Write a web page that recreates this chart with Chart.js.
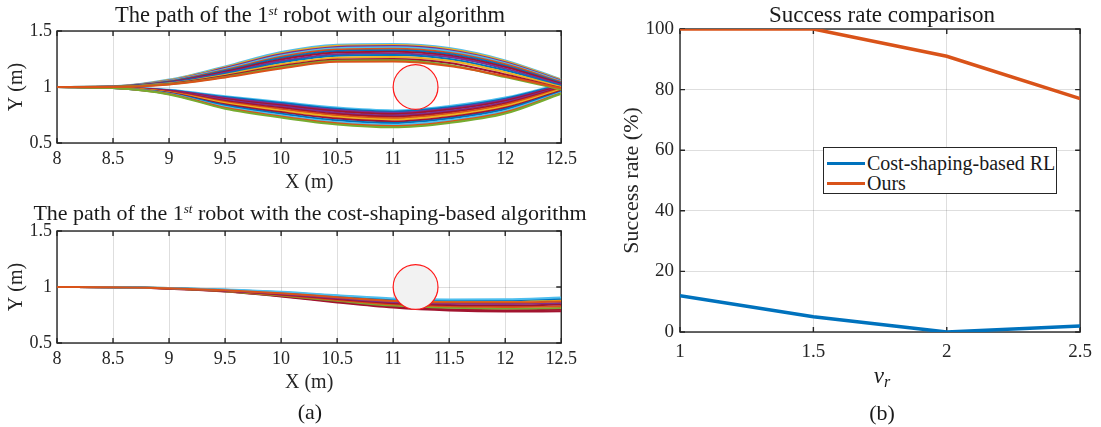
<!DOCTYPE html>
<html>
<head>
<meta charset="utf-8">
<script src="https://cdn.jsdelivr.net/npm/chart.js@4.4.1/dist/chart.umd.min.js"></script>
<style>
  body { margin: 0; background: #fff; }
  #page { position: relative; width: 1101px; height: 427px; overflow: hidden;
          font-family: "Liberation Serif", "Times New Roman", serif; color: #1a1a1a; }
  #page canvas { position: absolute; }
  .txt { position: absolute; width: 640px; text-align: center; white-space: nowrap; height: 28px; line-height: 28px; }
  .txt sup { font-size: 0.6em; font-style: italic; vertical-align: 0.55em; line-height: 0; }
  .txt sub { font-size: 0.7em; font-style: italic; vertical-align: -0.25em; line-height: 0; }
  #legend { position: absolute; left: 823px; top: 147px; width: 234px; height: 47px;
            border: 1.4px solid #262626; background: #fff; box-sizing: border-box; }
  #legend .row { position: absolute; left: 0; height: 22px; line-height: 22px; font-size: 20px; color: #1a1a1a; }
  #legend .swatch { position: absolute; left: 3px; top: 9.5px; width: 38px; height: 3px; }
  #legend .lbl { position: absolute; left: 43px; top: 0; white-space: nowrap; }
</style>
</head>
<body>
<div id="page">
  <canvas id="c-ours" width="582" height="200" style="left:0;top:0"></canvas>
  <canvas id="c-shaped" width="582" height="200" style="left:0;top:200px"></canvas>
  <canvas id="c-rate" width="501" height="400" style="left:600px;top:0"></canvas>

  <div class="txt" style="left:-10px;top:1px;font-size:22.5px">The path of the 1<sup>st</sup> robot with our algorithm</div>
  <div class="txt" style="left:-10px;top:199px;font-size:22px">The path of the 1<sup>st</sup> robot with the cost-shaping-based algorithm</div>
  <div class="txt" style="left:-10px;top:398px;font-size:22px">(a)</div>

  <div class="txt" style="left:562px;top:1px;font-size:23px">Success rate comparison</div>
  <div class="txt" style="left:562px;top:362px;font-size:23px"><i>v</i><sub>r</sub></div>
  <div class="txt" style="left:562px;top:399px;font-size:22px">(b)</div>

  <div id="legend">
    <div class="row" style="top:4px"><span class="swatch" style="background:#0072BD"></span><span class="lbl">Cost-shaping-based RL</span></div>
    <div class="row" style="top:24px"><span class="swatch" style="background:#D95319"></span><span class="lbl">Ours</span></div>
  </div>
</div>

<script>
// x positions (m) where every path is sampled
const pathX = [8, 8.5, 9, 9.5, 10, 10.5, 11, 11.5, 12, 12.5];

// our algorithm: paths passing above the obstacle (top to bottom)
const oursUpper = [
  [1, 1.006, 1.066, 1.184, 1.312, 1.378, 1.385, 1.348, 1.238, 1.068],
  [1, 1.005, 1.062, 1.176, 1.302, 1.368, 1.376, 1.339, 1.230, 1.062],
  [1, 1.005, 1.058, 1.169, 1.292, 1.357, 1.365, 1.329, 1.222, 1.057],
  [1, 1.004, 1.055, 1.161, 1.281, 1.346, 1.354, 1.319, 1.213, 1.051],
  [1, 1.004, 1.051, 1.153, 1.270, 1.334, 1.342, 1.307, 1.203, 1.044],
  [1, 1.003, 1.047, 1.145, 1.258, 1.321, 1.329, 1.295, 1.191, 1.036],
  [1, 1.003, 1.043, 1.136, 1.245, 1.307, 1.315, 1.281, 1.178, 1.028],
  [1, 1.003, 1.039, 1.127, 1.232, 1.293, 1.300, 1.267, 1.164, 1.019],
  [1, 1.002, 1.035, 1.118, 1.218, 1.278, 1.285, 1.251, 1.149, 1.010],
  [1, 1.002, 1.031, 1.108, 1.203, 1.262, 1.268, 1.234, 1.132, 1.001],
  [1, 1.001, 1.027, 1.098, 1.188, 1.246, 1.251, 1.215, 1.112, 0.991],
  [1, 1.001, 1.024, 1.090, 1.176, 1.235, 1.238, 1.196, 1.088, 0.978],
  [1, 1.001, 1.022, 1.085, 1.165, 1.225, 1.227, 1.188, 1.096, 0.988]
];
const oursUpperColor = [5, 2, 3, 5, 1, 0, 6, 3, 0, 2, 6, 4, 1];

// our algorithm: paths passing below the obstacle (top to bottom)
const oursLower = [
  [1, 0.996, 0.975, 0.918, 0.867, 0.816, 0.791, 0.831, 0.906, 1.028],
  [1, 0.996, 0.972, 0.910, 0.857, 0.805, 0.780, 0.820, 0.896, 1.021],
  [1, 0.995, 0.969, 0.902, 0.846, 0.794, 0.769, 0.809, 0.886, 1.015],
  [1, 0.995, 0.966, 0.894, 0.836, 0.783, 0.758, 0.798, 0.876, 1.008],
  [1, 0.994, 0.963, 0.885, 0.825, 0.771, 0.746, 0.786, 0.865, 1.001],
  [1, 0.994, 0.960, 0.876, 0.814, 0.759, 0.734, 0.774, 0.854, 0.993],
  [1, 0.993, 0.956, 0.867, 0.802, 0.746, 0.721, 0.761, 0.842, 0.985],
  [1, 0.993, 0.952, 0.857, 0.789, 0.732, 0.707, 0.747, 0.829, 0.977],
  [1, 0.992, 0.948, 0.846, 0.776, 0.718, 0.693, 0.733, 0.815, 0.968],
  [1, 0.991, 0.944, 0.835, 0.762, 0.703, 0.678, 0.718, 0.801, 0.959],
  [1, 0.991, 0.940, 0.824, 0.748, 0.688, 0.663, 0.703, 0.786, 0.951],
  [1, 0.990, 0.937, 0.815, 0.737, 0.676, 0.651, 0.690, 0.774, 0.945],
  [1, 0.990, 0.934, 0.806, 0.727, 0.665, 0.640, 0.679, 0.763, 0.940]
];
const oursLowerColor = [5, 0, 3, 6, 3, 6, 1, 2, 6, 0, 5, 1, 4];

// cost-shaping-based algorithm paths (first one is drawn on top)
const shapedPaths = [
  [1, 0.998, 0.989, 0.971, 0.944, 0.909, 0.876, 0.864, 0.863, 0.870],
  [1, 0.998, 0.991, 0.977, 0.957, 0.927, 0.898, 0.889, 0.890, 0.906],
  [1, 0.998, 0.990, 0.975, 0.953, 0.922, 0.892, 0.882, 0.883, 0.896],
  [1, 0.998, 0.990, 0.973, 0.949, 0.916, 0.885, 0.874, 0.874, 0.884],
  [1, 0.998, 0.988, 0.969, 0.939, 0.901, 0.866, 0.852, 0.850, 0.857],
  [1, 0.997, 0.988, 0.967, 0.934, 0.893, 0.855, 0.840, 0.836, 0.843],
  [1, 0.997, 0.987, 0.965, 0.929, 0.885, 0.845, 0.828, 0.822, 0.829],
  [1, 0.997, 0.986, 0.963, 0.924, 0.877, 0.834, 0.815, 0.808, 0.813],
  [1, 0.997, 0.986, 0.961, 0.919, 0.869, 0.824, 0.801, 0.793, 0.797],
  [1, 0.997, 0.985, 0.959, 0.915, 0.862, 0.816, 0.790, 0.781, 0.783]
];
const shapedColor = [1, 5, 0, 2, 3, 6, 1, 4, 6, 6];

// circular obstacle (m)
const obstacle = { x: 11.2, y: 1, r: 0.2 };

// success rate (%) vs v_r
const vr = [1, 1.5, 2, 2.5];
const rateShaped = [12, 5, 0, 2];
const rateOurs = [100, 100, 91, 77];

const matlabColors = ['#0072BD', '#D95319', '#EDB120', '#7E2F8E', '#77AC30', '#4DBEEE', '#A2142F'];
const ink = '#262626';
const gridColor = 'rgba(0,0,0,0.13)';
const serif = '"Liberation Serif", "Times New Roman", serif';
Chart.defaults.font.family = serif;

// MATLAB style box with inward ticks on all four sides
const matlabFrame = {
  id: 'matlabFrame',
  beforeDatasetsDraw(chart) {
    const { ctx, chartArea: a, scales } = chart;
    ctx.save();
    ctx.strokeStyle = ink;
    ctx.lineWidth = 1.4;
    ctx.strokeRect(a.left, a.top, a.right - a.left, a.bottom - a.top);
    const len = 5;
    ctx.beginPath();
    scales.x.ticks.forEach((t, i) => {
      const px = scales.x.getPixelForTick(i);
      ctx.moveTo(px, a.bottom); ctx.lineTo(px, a.bottom - len);
      ctx.moveTo(px, a.top); ctx.lineTo(px, a.top + len);
    });
    scales.y.ticks.forEach((t, i) => {
      const py = scales.y.getPixelForTick(i);
      ctx.moveTo(a.left, py); ctx.lineTo(a.left + len, py);
      ctx.moveTo(a.right, py); ctx.lineTo(a.right - len, py);
    });
    ctx.stroke();
    ctx.restore();
  }
};

function pathDataset(ys, colorIdx) {
  return {
    type: 'line',
    data: pathX.map((x, i) => ({ x: x, y: ys[i] })),
    borderColor: matlabColors[colorIdx],
    borderWidth: 2,
    pointRadius: 0,
    fill: false,
    cubicInterpolationMode: 'monotone'
  };
}

// obstacle drawn as one point whose radius is the obstacle radius in x-scale pixels
function obstacleDataset() {
  return {
    type: 'line',
    data: [{ x: obstacle.x, y: obstacle.y }],
    showLine: false,
    pointBackgroundColor: '#f2f2f2',
    pointBorderColor: '#ff1a1a',
    pointBorderWidth: 1.2,
    pointRadius: (ctx) => {
      const s = ctx.chart.scales.x;
      const r = Math.abs(s.getPixelForValue(obstacle.x + obstacle.r) - s.getPixelForValue(obstacle.x));
      return isFinite(r) ? r : 0;
    },
    clip: false,
    order: -1
  };
}

function pathOptions() {
  return {
    responsive: false,
    animation: false,
    events: [],
    layout: { padding: { top: 31, right: 20, left: 0, bottom: 0 } },
    plugins: { legend: { display: false }, tooltip: { enabled: false } },
    scales: {
      x: {
        type: 'linear', min: 8, max: 12.5,
        ticks: { stepSize: 0.5, padding: 5, color: ink, font: { family: serif, size: 18 }, maxRotation: 0, autoSkip: false,
                 callback: (v) => String(v) },
        grid: { color: gridColor, drawTicks: false },
        border: { display: false },
        title: { display: true, text: 'X (m)', color: ink, font: { family: serif, size: 20 }, padding: { top: 0, bottom: 5 } },
        afterFit: (s) => { s.height = 57; }
      },
      y: {
        type: 'linear', min: 0.5, max: 1.5,
        ticks: { stepSize: 0.5, padding: 5, color: ink, font: { family: serif, size: 18 }, callback: (v) => String(v) },
        grid: { color: gridColor, drawTicks: false },
        border: { display: false },
        title: { display: true, text: 'Y (m)', color: ink, font: { family: serif, size: 20 }, padding: { top: 5, bottom: 0 } },
        afterFit: (s) => { s.width = 57; }
      }
    }
  };
}

const oursSets = [obstacleDataset()];
for (let i = oursUpper.length - 1; i >= 0; i--) oursSets.push(pathDataset(oursUpper[i], oursUpperColor[i]));
for (let i = oursLower.length - 1; i >= 0; i--) oursSets.push(pathDataset(oursLower[i], oursLowerColor[i]));

new Chart(document.getElementById('c-ours'), {
  type: 'line',
  data: { datasets: oursSets },
  options: pathOptions(),
  plugins: [matlabFrame]
});

const shapedSets = [obstacleDataset()];
shapedPaths.forEach((ys, i) => shapedSets.push(pathDataset(ys, shapedColor[i])));

new Chart(document.getElementById('c-shaped'), {
  type: 'line',
  data: { datasets: shapedSets },
  options: pathOptions(),
  plugins: [matlabFrame]
});

new Chart(document.getElementById('c-rate'), {
  type: 'line',
  data: {
    datasets: [
      { label: 'Cost-shaping-based RL', data: vr.map((x, i) => ({ x: x, y: rateShaped[i] })),
        borderColor: matlabColors[0], borderWidth: 3.5, pointRadius: 0, tension: 0 },
      { label: 'Ours', data: vr.map((x, i) => ({ x: x, y: rateOurs[i] })),
        borderColor: matlabColors[1], borderWidth: 3.5, pointRadius: 0, tension: 0 }
    ]
  },
  options: {
    responsive: false,
    animation: false,
    events: [],
    layout: { padding: { top: 29, right: 18, left: 0, bottom: 0 } },
    plugins: { legend: { display: false }, tooltip: { enabled: false } },
    scales: {
      x: {
        type: 'linear', min: 1, max: 2.5,
        ticks: { stepSize: 0.5, padding: 9, color: ink, font: { family: serif, size: 19 }, maxRotation: 0, autoSkip: false,
                 callback: (v) => String(v) },
        grid: { color: gridColor, drawTicks: false },
        border: { display: false },
        afterFit: (s) => { s.height = 68; }
      },
      y: {
        type: 'linear', min: 0, max: 100,
        ticks: { stepSize: 20, padding: 6, color: ink, font: { family: serif, size: 19 } },
        grid: { color: gridColor, drawTicks: false },
        border: { display: false },
        title: { display: true, text: 'Success rate (%)', color: ink, font: { family: serif, size: 22 }, padding: { top: 19, bottom: 0 } },
        afterFit: (s) => { s.width = 80; }
      }
    }
  },
  plugins: [matlabFrame]
});
</script>
</body>
</html>
